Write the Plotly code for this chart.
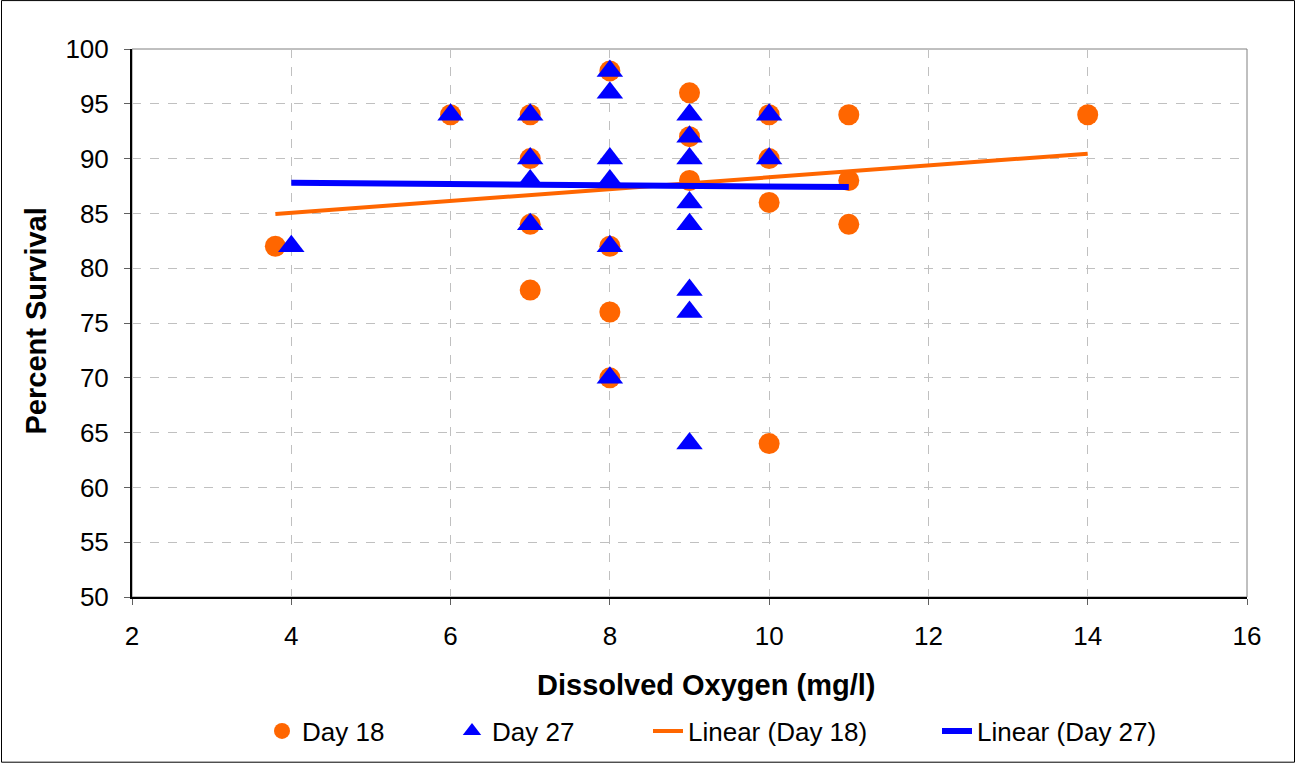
import plotly.graph_objects as go

# Day 18 observations (orange circles)
day18_do = [3.8, 6, 7, 7, 7, 7, 8, 8, 8, 8, 9, 9, 9, 10, 10, 10, 10, 11, 11, 11, 14]
day18_surv = [82, 94, 94, 90, 84, 78, 98, 82, 76, 70, 96, 92, 88, 94, 90, 86, 64, 94, 88, 84, 94]

# Day 27 observations (blue triangles)
day27_do = [4, 6, 7, 7, 7, 7, 8, 8, 8, 8, 8, 8, 9, 9, 9, 9, 9, 9, 9, 9, 10, 10]
day27_surv = [82, 94, 94, 90, 88, 84, 98, 96, 90, 88, 82, 70, 94, 92, 90, 86, 84, 78, 76, 64, 94, 90]

# Linear trendlines as drawn (end points)
trend18_do = [3.8, 14]
trend18_surv = [84.95, 90.45]
trend27_do = [4, 11]
trend27_surv = [87.8, 87.4]

x_ticks = [2, 4, 6, 8, 10, 12, 14, 16]
y_ticks = [50, 55, 60, 65, 70, 75, 80, 85, 90, 95, 100]

ORANGE = "#FF6600"
BLUE = "#0000FF"
FONT = "Arial, Liberation Sans, sans-serif"

fig = go.Figure()
fig.add_trace(go.Scatter(x=day18_do, y=day18_surv, mode="markers", name="Day 18",
                         marker=dict(symbol="circle", size=21, color=ORANGE),
                         legend="legend"))
fig.add_trace(go.Scatter(x=day27_do, y=day27_surv, mode="markers", name="Day 27",
                         marker=dict(symbol="triangle-up", size=23, color=BLUE),
                         legend="legend2"))
fig.add_trace(go.Scatter(x=trend18_do, y=trend18_surv, mode="lines", name="Linear (Day 18)",
                         line=dict(color=ORANGE, width=4), legend="legend3"))
fig.add_trace(go.Scatter(x=trend27_do, y=trend27_surv, mode="lines", name="Linear (Day 27)",
                         line=dict(color=BLUE, width=6), legend="legend4"))

L, R, T, B = 132, 49, 49, 167
W, H = 1296, 765
pw, ph = W - L - R, H - T - B


def px_x(p):
    return (p - L) / pw


def px_y(p):
    return (H - B - p) / ph


leg_common = dict(orientation="h", yanchor="middle", xanchor="left",
                  font=dict(family=FONT, size=26, color="black"),
                  bgcolor="rgba(0,0,0,0)", borderwidth=0)
legend_text_starts = [303, 493, 689, 978]
legs = {}
for i, tx in enumerate(legend_text_starts):
    key = "legend" if i == 0 else f"legend{i+1}"
    legs[key] = dict(leg_common, x=px_x(tx - 41), y=px_y(731))

axis_common = dict(showline=True, linecolor="black", linewidth=2,
                   ticks="outside", ticklen=6, tickcolor="#606060", tickwidth=1,
                   showgrid=True, gridcolor="#C0C0C0", gridwidth=1, griddash="dash",
                   zeroline=False, tickfont=dict(family=FONT, size=26, color="black"))

fig.update_layout(
    width=W, height=H,
    margin=dict(l=L, r=R, t=T, b=B),
    paper_bgcolor="white", plot_bgcolor="white",
    font=dict(family=FONT, color="black"),
    showlegend=True,
    xaxis=dict(axis_common, range=[2, 16], tickvals=x_ticks, ticklabelstandoff=9),
    yaxis=dict(axis_common, range=[50, 100], tickvals=y_ticks, ticklabelstandoff=10),
    **legs,
    shapes=[
        dict(type="rect", xref="paper", yref="paper", x0=0, y0=0, x1=1, y1=1,
             line=dict(color="#808080", width=1), layer="below"),
        dict(type="rect", xref="paper", yref="paper",
             x0=px_x(1.5), x1=px_x(1294.5), y0=px_y(763.5), y1=px_y(0.5),
             line=dict(color="black", width=1), layer="below"),
    ],
    annotations=[
        dict(text="Dissolved Oxygen (mg/l)", xref="paper", yref="paper",
             x=px_x(706), y=px_y(686), showarrow=False, xanchor="center", yanchor="middle",
             font=dict(family=FONT, size=29, color="black", weight="bold")),
        dict(text="Percent Survival", xref="paper", yref="paper", textangle=-90,
             x=px_x(36), y=px_y(322), showarrow=False, xanchor="center", yanchor="middle",
             font=dict(family=FONT, size=29, color="black", weight="bold")),
    ],
)

fig.write_html("out.html")
